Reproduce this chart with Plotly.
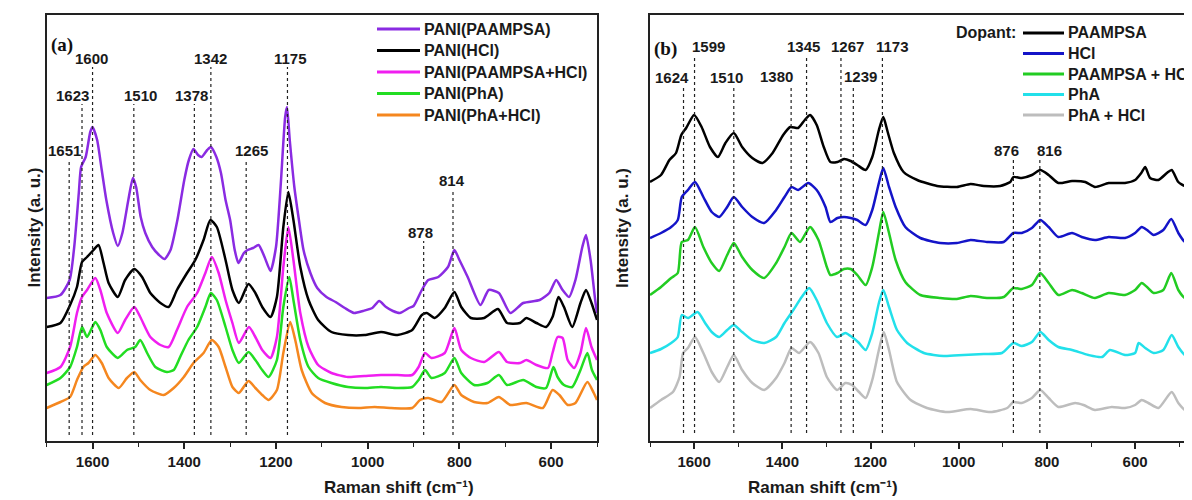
import plotly.graph_objects as go

# ---------------- data (Raman shift cm-1, intensity a.u.) ----------------
a_paampsa = [(1700,143),(1670,146),(1650,161),(1640,194),(1630,248),(1625,274),(1615,284),(1605,309),(1600,314),(1590,301),(1580,271),(1570,241),(1555,208),(1545,195),(1535,208),(1522,241),(1512,263),(1505,254),(1495,224),(1485,208),(1470,194),(1455,186),(1443,182),(1430,191),(1415,221),(1400,261),(1390,281),(1380,292),(1370,286),(1362,284),(1350,291),(1342,294),(1330,284),(1320,268),(1310,241),(1300,221),(1290,191),(1282,178),(1270,188),(1262,191),(1250,193),(1238,196),(1225,184),(1212,170),(1200,194),(1190,254),(1180,324),(1176,334),(1170,301),(1160,254),(1150,221),(1140,191),(1125,168),(1110,153),(1090,144),(1070,139),(1050,133),(1030,128),(1010,130),(990,133),(975,140),(960,134),(945,130),(930,128),(910,133),(900,135),(882,151),(868,161),(846,164),(825,174),(811,191),(800,181),(782,164),(754,136),(736,151),(714,148),(689,128),(661,138),(625,141),(604,148),(589,161),(575,151),(561,144),(547,161),(532,194),(524,206),(514,181),(504,141),(500,128)]
a_hcl = [(1700,114),(1670,118),(1649,136),(1634,154),(1623,179),(1612,184),(1598,191),(1587,196),(1576,178),(1565,158),(1545,144),(1529,161),(1509,172),(1492,164),(1474,148),(1452,138),(1434,134),(1416,151),(1394,168),(1376,181),(1358,201),(1343,221),(1329,214),(1310,181),(1295,151),(1281,138),(1260,157),(1245,148),(1230,134),(1212,124),(1198,144),(1184,214),(1173,249),(1162,221),(1147,174),(1129,141),(1108,121),(1079,109),(1043,106),(1007,106),(971,109),(935,106),(903,111),(882,126),(871,128),(854,123),(832,133),(811,149),(796,134),(775,123),(746,123),(716,132),(696,118),(668,118),(654,123),(632,118),(611,114),(597,124),(584,144),(572,134),(554,114),(536,138),(524,151),(512,138),(500,121)]
a_paampsa_hcl = [(1700,68),(1670,74),(1649,94),(1634,128),(1623,144),(1612,151),(1594,163),(1583,151),(1569,128),(1545,108),(1529,121),(1509,134),(1496,124),(1474,104),(1452,96),(1434,94),(1416,111),(1394,134),(1372,148),(1354,168),(1340,184),(1325,168),(1310,141),(1295,118),(1281,98),(1259,114),(1245,104),(1230,91),(1212,83),(1198,104),(1184,174),(1173,214),(1162,181),(1147,128),(1129,94),(1108,76),(1079,68),(1043,64),(1007,65),(971,66),(935,66),(903,66),(889,74),(875,88),(861,83),(832,88),(811,113),(796,91),(775,83),(746,79),(714,89),(696,79),(668,78),(654,81),(632,76),(607,73),(597,88),(586,104),(575,103),(564,81),(550,73),(536,88),(524,113),(512,94),(500,81)]
a_pha = [(1700,56),(1670,63),(1649,74),(1634,94),(1623,114),(1612,104),(1594,119),(1583,111),(1569,94),(1545,83),(1525,91),(1507,94),(1496,101),(1481,88),(1463,74),(1438,69),(1423,71),(1409,84),(1391,101),(1372,114),(1354,134),(1342,148),(1329,141),(1310,114),(1295,91),(1281,78),(1260,89),(1245,81),(1230,71),(1216,64),(1198,81),(1184,134),(1171,164),(1162,141),(1147,101),(1129,74),(1108,63),(1079,58),(1043,54),(1007,53),(971,54),(935,53),(903,54),(889,61),(875,71),(861,63),(832,68),(811,83),(796,68),(768,56),(739,58),(714,66),(696,56),(661,61),(632,54),(611,53),(595,74),(586,64),(572,56),(554,54),(536,71),(521,88),(511,71),(500,61)]
a_pha_hcl = [(1700,33),(1670,39),(1649,44),(1634,61),(1620,74),(1609,78),(1594,86),(1580,78),(1565,63),(1543,53),(1525,63),(1509,69),(1496,61),(1474,51),(1445,46),(1423,53),(1401,64),(1380,78),(1358,88),(1340,101),(1325,94),(1310,74),(1295,54),(1281,48),(1260,60),(1245,53),(1230,46),(1216,41),(1198,51),(1184,88),(1169,119),(1158,101),(1144,71),(1122,48),(1093,38),(1057,34),(1021,33),(985,34),(949,33),(903,33),(886,41),(868,43),(839,39),(811,56),(796,46),(768,39),(739,38),(714,44),(689,36),(654,38),(618,33),(597,51),(582,46),(564,36),(547,38),(521,59),(507,48),(500,41)]

b_paampsa = [(1700,259),(1675,266),(1656,281),(1641,288),(1629,306),(1618,313),(1600,326),(1583,314),(1564,294),(1546,284),(1529,298),(1510,308),(1491,294),(1468,283),(1445,278),(1422,288),(1398,306),(1382,314),(1364,313),(1349,321),(1337,326),(1322,316),(1306,294),(1291,279),(1275,279),(1260,282),(1245,280),(1230,276),(1211,271),(1196,284),(1181,311),(1171,324),(1161,309),(1147,288),(1125,269),(1094,261),(1049,255),(1004,254),(973,257),(943,255),(906,255),(883,259),(876,264),(857,263),(834,266),(815,271),(796,266),(774,258),(743,260),(713,259),(691,254),(660,258),(623,258),(600,261),(586,268),(577,274),(566,263),(547,261),(528,268),(517,271),(502,259),(487,255),(472,256)]
b_hcl = [(1700,203),(1675,208),(1652,214),(1637,221),(1628,244),(1614,251),(1598,259),(1579,244),(1560,229),(1543,224),(1525,234),(1510,244),(1491,234),(1468,224),(1441,218),(1414,231),(1395,244),(1379,254),(1364,251),(1341,258),(1322,251),(1302,234),(1291,219),(1275,223),(1260,224),(1245,223),(1230,221),(1211,216),(1196,231),(1181,258),(1171,273),(1158,254),(1143,234),(1121,214),(1087,203),(1042,198),(1004,198),(973,201),(936,199),(898,199),(876,208),(857,208),(834,213),(815,221),(796,214),(774,204),(743,208),(721,204),(691,201),(660,204),(623,203),(600,208),(585,214),(573,211),(558,206),(536,211),(518,222),(502,208),(487,199),(472,198)]
b_paampsa_hcl = [(1700,146),(1675,154),(1652,163),(1637,168),(1628,199),(1614,201),(1598,214),(1579,194),(1560,178),(1543,170),(1525,186),(1510,198),(1491,184),(1468,171),(1441,163),(1414,178),(1395,194),(1379,208),(1360,199),(1337,214),(1318,201),(1299,174),(1291,166),(1275,168),(1260,172),(1245,172),(1230,166),(1211,156),(1196,174),(1181,208),(1171,229),(1158,208),(1143,181),(1121,159),(1087,146),(1042,143),(1004,142),(973,145),(936,143),(898,144),(876,153),(857,152),(834,156),(815,168),(796,158),(774,146),(743,151),(721,148),(691,143),(660,148),(623,146),(600,151),(585,158),(573,154),(558,148),(536,151),(518,168),(502,151),(487,143),(472,142)]
b_pha = [(1700,88),(1675,92),(1652,98),(1637,104),(1628,126),(1614,123),(1592,129),(1575,118),(1560,109),(1543,104),(1525,111),(1510,116),(1491,109),(1468,101),(1441,98),(1414,104),(1395,118),(1375,131),(1356,144),(1339,153),(1322,141),(1299,118),(1276,104),(1257,108),(1242,104),(1226,98),(1211,91),(1196,108),(1181,138),(1171,151),(1158,134),(1140,111),(1117,98),(1079,88),(1034,85),(989,86),(943,87),(902,88),(876,98),(857,95),(834,99),(815,109),(796,101),(774,94),(743,91),(706,86),(675,84),(657,91),(623,86),(600,88),(592,98),(577,93),(558,88),(536,91),(517,106),(502,94),(487,86),(472,85)]
b_pha_hcl = [(1700,33),(1675,41),(1648,49),(1633,64),(1625,88),(1614,93),(1598,104),(1579,88),(1560,69),(1543,59),(1525,74),(1510,86),(1491,71),(1468,58),(1441,51),(1414,63),(1395,78),(1379,93),(1362,88),(1337,99),(1318,88),(1299,64),(1276,51),(1257,58),(1242,56),(1226,49),(1211,43),(1196,61),(1181,91),(1170,109),(1158,91),(1140,59),(1109,41),(1072,33),(1026,29),(973,32),(928,29),(890,33),(876,39),(857,38),(834,43),(815,51),(796,43),(774,34),(736,38),(717,36),(691,31),(653,34),(623,33),(600,36),(585,41),(570,38),(547,33),(517,49),(502,38),(487,31),(472,29)]

names_a = ["PANI(PAAMPSA)", "PANI(HCl)", "PANI(PAAMPSA+HCl)", "PANI(PhA)", "PANI(PhA+HCl)"]
names_b = ["PAAMPSA", "HCl", "PAAMPSA + HCl", "PhA", "PhA + HCl"]
peaks_a = [1651, 1623, 1600, 1510, 1378, 1342, 1265, 1175, 878, 814]
peaks_b = [1624, 1599, 1510, 1380, 1345, 1267, 1239, 1173, 876, 816]
xticks = [1600, 1400, 1200, 1000, 800, 600]

# ---------------- styling / layout config ----------------
SW, SH = 1192, 500          # screen size
OFF = 8                     # default page margin around the plot div
W, H = SW - OFF, SH - OFF   # figure size so that it fills the window
TOP, BOT = 15, 441          # screen pixel rows of plot frame
YMAX = BOT - TOP
colors_a = ["#8A2BE2", "#000000", "#F01EF0", "#22DD22", "#F5871F"]
colors_b = ["#000000", "#1414C8", "#22CC22", "#22E0EA", "#BDBDBD"]
# label row (screen pixel y) and x shift for each peak label
lab_a = {1651: (150, -5), 1623: (95, -10), 1600: (58, -1), 1510: (95, 7), 1378: (95, -3),
         1342: (58, 0), 1265: (150, 5), 1175: (58, 3), 878: (232, -3), 814: (180, -1)}
lab_b = {1624: (77, -12), 1599: (46, 14), 1510: (77, -7), 1380: (76, -15), 1345: (46, -3),
         1267: (46, 7), 1239: (76, 7), 1173: (46, 10), 876: (150, -7), 816: (150, 10)}

FONT = "Arial, Liberation Sans, sans-serif"
SERIF = "Liberation Serif, Times New Roman, serif"
TXT = "#1a1a1a"


def v(py):
    return BOT - py


def px(x):
    return (x - OFF) / W


def py_(y):
    return (H - (y - OFF)) / H


fig = go.Figure()
series_a = [a_paampsa, a_hcl, a_paampsa_hcl, a_pha, a_pha_hcl]
series_b = [b_paampsa, b_hcl, b_paampsa_hcl, b_pha, b_pha_hcl]
for s, n, c in zip(series_a, names_a, colors_a):
    fig.add_trace(go.Scatter(x=[p[0] for p in s], y=[p[1] for p in s], name=n, mode="lines",
                             line=dict(color=c, width=2.5, shape="spline", smoothing=0.6),
                             xaxis="x", yaxis="y", showlegend=False))
for s, n, c in zip(series_b, names_b, colors_b):
    fig.add_trace(go.Scatter(x=[p[0] for p in s], y=[p[1] for p in s], name=n, mode="lines",
                             line=dict(color=c, width=2.5, shape="spline", smoothing=0.6),
                             xaxis="x2", yaxis="y2", showlegend=False))

shapes, annots = [], []
for pk in peaks_a:
    ly, dx = lab_a[pk]
    shapes.append(dict(type="line", xref="x", yref="y", x0=pk, x1=pk, y0=v(435), y1=v(ly + 9),
                       line=dict(color="#222", width=1.2, dash="dot")))
    annots.append(dict(x=pk, y=v(ly), xref="x", yref="y", text=str(pk), showarrow=False,
                       xshift=dx, font=dict(family=FONT, size=15, color=TXT, weight="bold")))
for pk in peaks_b:
    ly, dx = lab_b[pk]
    shapes.append(dict(type="line", xref="x2", yref="y2", x0=pk, x1=pk, y0=v(433), y1=v(ly + 9),
                       line=dict(color="#222", width=1.2, dash="dot")))
    annots.append(dict(x=pk, y=v(ly), xref="x2", yref="y2", text=str(pk), showarrow=False,
                       xshift=dx, font=dict(family=FONT, size=15, color=TXT, weight="bold")))

# manual legends
rows_a = [29, 50.5, 72, 93.5, 115]
for n, c, r in zip(names_a, colors_a, rows_a):
    shapes.append(dict(type="line", xref="paper", yref="paper", x0=px(377), x1=px(420),
                       y0=py_(r), y1=py_(r), line=dict(color=c, width=3)))
    annots.append(dict(x=px(422), y=py_(r), xref="paper", yref="paper", text=n, showarrow=False,
                       xanchor="left", yanchor="middle",
                       font=dict(family=FONT, size=16, color=TXT, weight="bold")))
rows_b = [33, 53.5, 74, 94.5, 115]
for n, c, r in zip(names_b, colors_b, rows_b):
    shapes.append(dict(type="line", xref="paper", yref="paper", x0=px(1023), x1=px(1064),
                       y0=py_(r), y1=py_(r), line=dict(color=c, width=3)))
    annots.append(dict(x=px(1066), y=py_(r), xref="paper", yref="paper", text=n, showarrow=False,
                       xanchor="left", yanchor="middle",
                       font=dict(family=FONT, size=16, color=TXT, weight="bold")))
annots.append(dict(x=px(1018), y=py_(rows_b[0]), xref="paper", yref="paper", text="Dopant:",
                   showarrow=False, xanchor="right", yanchor="middle",
                   font=dict(family=FONT, size=16, color=TXT, weight="bold")))

# panel letters
annots.append(dict(x=px(49), y=py_(32), xref="paper", yref="paper", text="(a)", showarrow=False,
                   xanchor="left", font=dict(family=SERIF, size=19, color="#111", weight="bold")))
annots.append(dict(x=px(652), y=py_(36), xref="paper", yref="paper", text="(b)", showarrow=False,
                   xanchor="left", font=dict(family=SERIF, size=19, color="#111", weight="bold")))
# axis titles
for cx, yx in [(322, 22), (900, 622)]:
    annots.append(dict(x=px(cx), y=py_(487), xref="paper", yref="paper", yanchor="middle",
                       text="Raman shift (cm\u207b\u00b9)", showarrow=False,
                       font=dict(family=FONT, size=17, color=TXT, weight="bold")))
    annots.append(dict(x=px(yx), y=py_(228), xref="paper", yref="paper", text="Intensity (a. u.)",
                       showarrow=False, textangle=-90,
                       font=dict(family=FONT, size=17, color=TXT, weight="bold")))

xax = dict(showline=True, linecolor="#222", linewidth=1.6, mirror=True, ticks="outside",
           ticklen=6, tickwidth=1.5, tickcolor="#222", tickvals=xticks, showgrid=False, zeroline=False,
           minor=dict(ticks="outside", ticklen=4, tickwidth=1.2, tickcolor="#222", dtick=100, tick0=0,
                      showgrid=False),
           tickfont=dict(family=FONT, size=15, color=TXT, weight="bold"))
yax = dict(showline=True, linecolor="#222", linewidth=1.6, ticks="", showticklabels=False,
           showgrid=False, zeroline=False, range=[0, YMAX], domain=[py_(BOT), py_(TOP)])

fig.update_layout(
    width=W, height=H, margin=dict(l=0, r=0, t=0, b=0),
    paper_bgcolor="white", plot_bgcolor="white", showlegend=False,
    xaxis=dict(xax, domain=[px(46.7), px(597)], range=[1700, 500], anchor="y"),
    yaxis=dict(yax, mirror=True, anchor="x"),
    xaxis2=dict(xax, domain=[px(650), 1.0], range=[1700, 471], anchor="y2"),
    yaxis2=dict(yax, mirror=False, anchor="x2"),
    shapes=shapes, annotations=annots,
)
fig.write_html("out.html")
